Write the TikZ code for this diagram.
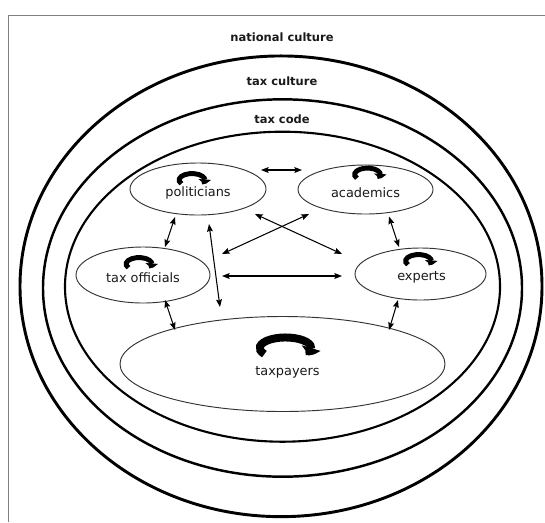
\documentclass[tikz,border=0pt]{standalone}
\usepackage{fontspec}
\setmainfont{DejaVu Sans}
\usetikzlibrary{shapes,arrows.meta,bending,calc}

\begin{document}
\begin{tikzpicture}[x=0.03cm,y=-0.03cm,>={Stealth[length=6.5pt,width=5pt,inset=1pt]},
    layer/.style={ellipse,draw,inner sep=0pt},
    actor/.style={ellipse,draw=black!80,line width=0.8pt,inner sep=0pt},
    word/.style={text=black!90,font=\fontsize{11}{13}\selectfont,inner sep=0pt},
    ring/.style={text=black!90,font=\bfseries\fontsize{9.8}{12}\selectfont,inner sep=0pt},
    link/.style={<->,line width=0.9pt},
    spin/.style={line width=4.2pt,-{Triangle[length=5pt,width=10pt,bend]}},
    bigspin/.style={line width=6.8pt,-{Triangle[length=8pt,width=16pt,bend]}}]
      \useasboundingbox (0,0) rectangle (545,522);
      \draw[black!50,line width=1.2pt] (8.5,522) -- (8.5,15.5) -- (545,15.5);
      \node[layer,line width=2.5pt,minimum width=15.66cm,minimum height=13.82cm] (nation) at (281,286.3) {};
      \node[layer,line width=2.1pt,minimum width=14.37cm,minimum height=11.32cm] (culture) at (282.5,288) {};
      \node[layer,line width=1.8pt,minimum width=13.05cm,minimum height=9.3cm] (code) at (282.5,286.7) {};
      \node[ring] (nationname) at (282,37) {national culture};
      \node[ring] (culturename) at (282,81) {tax culture};
      \node[ring] (codename) at (282,119) {tax code};
      \node[actor,minimum width=4.08cm,minimum height=1.56cm] (pol) at (198,189) {};
      \node[actor,minimum width=4.05cm,minimum height=1.47cm] (acad) at (365.5,189.5) {};
      \node[actor,minimum width=4.02cm,minimum height=1.68cm] (off) at (143,275) {};
      \node[actor,minimum width=3.93cm,minimum height=1.56cm] (exp) at (420.5,274) {};
      \node[actor,minimum width=9.75cm,minimum height=2.85cm] (tp) at (282.5,364) {};
      \node[word] (polname) at ($(pol)+(0,4)$) {politicians};
      \node[word] (acadname) at ($(acad)+(0,3)$) {academics};
      \node[word] (offname) at ($(off)+(0,3)$) {tax officials};
      \node[word] (expname) at ($(exp)+(1,3)$) {experts};
      \node[word] (tpname) at ($(tp)+(5,8)$) {taxpayers};
      \draw[spin] ($(pol)+(-6,-9)$) ++(215:11pt and 5.5pt) arc[start angle=215,end angle=-40,x radius=11pt,y radius=5.5pt];
      \draw[spin] ($(acad)+(2,-15)$) ++(215:11pt and 5.5pt) arc[start angle=215,end angle=-40,x radius=11pt,y radius=5.5pt];
      \draw[spin] ($(off)+(-4,-11)$) ++(215:11pt and 5.5pt) arc[start angle=215,end angle=-40,x radius=11pt,y radius=5.5pt];
      \draw[spin] ($(exp)+(-2,-13)$) ++(215:11pt and 5.5pt) arc[start angle=215,end angle=-40,x radius=11pt,y radius=5.5pt];
      \draw[bigspin] ($(tp)+(3,-16)$) ++(215:22pt and 9pt) arc[start angle=215,end angle=-40,x radius=22pt,y radius=9pt];
      \draw[link] ($(pol)+(63,-19)$) -- ($(acad)+(-63.5,-19.5)$);
      \draw[link] ($(pol)+(-23,28)$) -- ($(off)+(22,-28)$);
      \draw[link] ($(pol)+(11,35)$) -- ($(tp)+(-62.5,-57)$);
      \draw[link] ($(pol)+(57,25)$) -- ($(exp)+(-78.5,-20)$);
      \draw[link] ($(acad)+(-56.5,24.5)$) -- ($(off)+(79,-21)$);
      \draw[link] ($(off)+(79,1)$) -- ($(exp)+(-78.5,2)$);
      \draw[link] ($(acad)+(23.5,27)$) -- ($(exp)+(-21.5,-27)$);
      \draw[link] ($(off)+(22,25)$) -- ($(tp)+(-107.5,-34)$);
      \draw[link] ($(exp)+(-22.5,26)$) -- ($(tp)+(106.5,-34)$);
   \end{tikzpicture}
\end{document}
